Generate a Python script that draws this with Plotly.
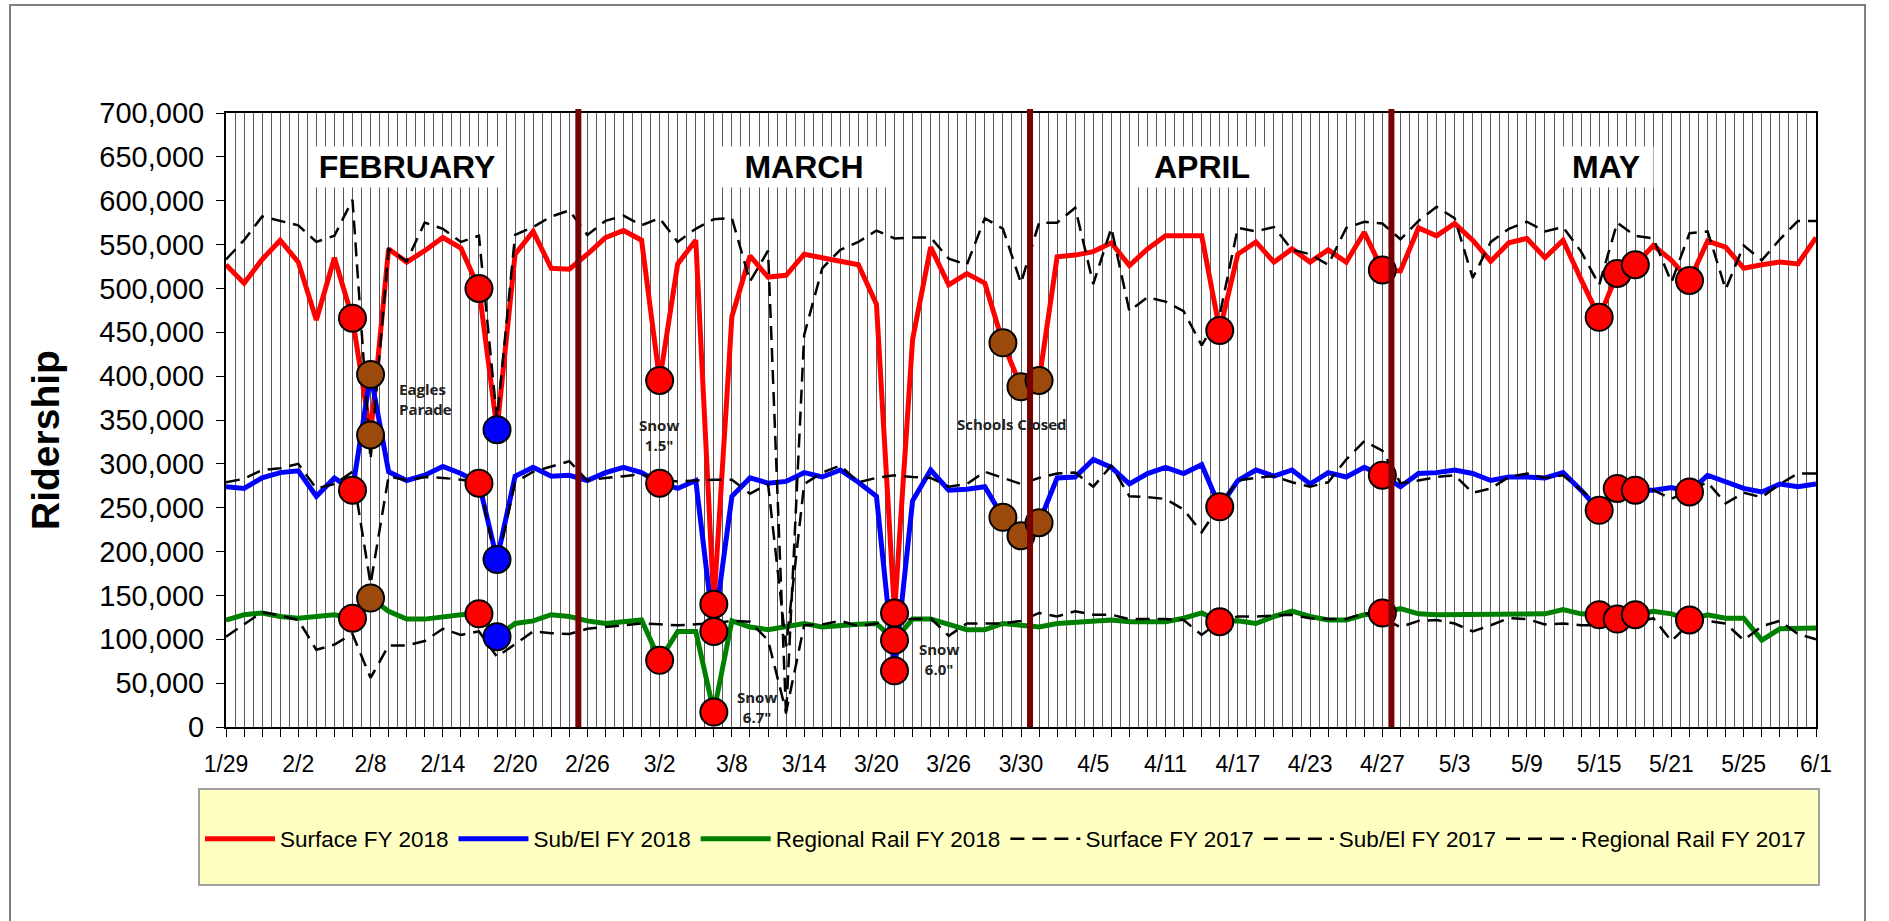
import plotly.graph_objects as go

# Weekday service days (Memorial Day excluded)
days = [
    "1/29", "1/30", "1/31", "2/1", "2/2",
    "2/5", "2/6", "2/7", "2/8", "2/9",
    "2/12", "2/13", "2/14", "2/15", "2/16",
    "2/19", "2/20", "2/21", "2/22", "2/23",
    "2/26", "2/27", "2/28", "3/1", "3/2",
    "3/5", "3/6", "3/7", "3/8", "3/9",
    "3/12", "3/13", "3/14", "3/15", "3/16",
    "3/19", "3/20", "3/21", "3/22", "3/23",
    "3/26", "3/27", "3/28", "3/29", "3/30",
    "4/2", "4/3", "4/4", "4/5", "4/6",
    "4/9", "4/10", "4/11", "4/12", "4/13",
    "4/16", "4/17", "4/18", "4/19", "4/20",
    "4/23", "4/24", "4/25", "4/26", "4/27",
    "4/30", "5/1", "5/2", "5/3", "5/4",
    "5/7", "5/8", "5/9", "5/10", "5/11",
    "5/14", "5/15", "5/16", "5/17", "5/18",
    "5/21", "5/22", "5/23", "5/24", "5/25",
    "5/29", "5/30", "5/31", "6/1",
]
tick_days = ["1/29", "2/2", "2/8", "2/14", "2/20", "2/26", "3/2", "3/8", "3/14",
             "3/20", "3/26", "3/30", "4/5", "4/11", "4/17", "4/23", "4/27", "5/3",
             "5/9", "5/15", "5/21", "5/25", "6/1"]

# Daily ridership, thousands
surface_fy2018 = [527, 506, 533, 555, 530, 464, 535, 466, 333, 545,
                  530, 543, 558, 546, 500, 339, 539, 565, 523, 522,
                  539, 558, 566, 555, 395, 528, 555, 140, 468, 537,
                  513, 515, 539, 535, 532, 527, 482, 130, 442, 547,
                  504, 517, 506, 438, 388, 395, 536, 538, 542, 552,
                  526, 545, 560, 560, 560, 452, 539, 553, 530, 545,
                  530, 544, 530, 564, 521, 520, 569, 560, 574, 555,
                  531, 552, 557, 535, 555, 510, 467, 517, 527, 549,
                  532, 509, 554, 547, 523, 527, 530, 528, 558]
subel_fy2018 = [274, 272, 284, 290, 292, 263, 284, 270, 402, 291,
                281, 287, 297, 289, 278, 191, 286, 296, 286, 287,
                281, 290, 296, 290, 278, 272, 281, 109, 263, 284,
                278, 280, 290, 285, 293, 279, 263, 64, 258, 293,
                270, 271, 274, 239, 218, 233, 284, 285, 305, 296,
                277, 289, 296, 289, 299, 251, 281, 293, 286, 293,
                277, 290, 285, 296, 287, 274, 289, 290, 293, 289,
                281, 285, 285, 284, 290, 270, 247, 272, 270, 270,
                273, 268, 287, 279, 272, 268, 277, 274, 277]
rail_fy2018 = [122, 128, 130, 126, 124, 126, 128, 124, 147, 132,
               123, 123, 126, 128, 129, 103, 118, 121, 128, 126,
               121, 118, 120, 122, 76, 109, 109, 17, 121, 114,
               111, 114, 118, 114, 116, 117, 118, 99, 123, 123,
               117, 111, 111, 118, 116, 114, 118, 119, 121, 122,
               120, 120, 120, 124, 130, 120, 121, 118, 126, 132,
               126, 122, 122, 128, 130, 135, 129, 128, 128, 128,
               129, 129, 128, 129, 134, 129, 128, 123, 128, 132,
               129, 122, 128, 124, 124, 99, 112, 112, 113]
surface_fy2017 = [533, 555, 582, 577, 572, 553, 560, 601, 305, 545,
                  531, 575, 568, 553, 560, 350, 561, 570, 582, 589,
                  561, 577, 583, 572, 580, 553, 568, 579, 580, 508,
                  543, 12, 447, 523, 544, 553, 566, 557, 558, 558,
                  534, 527, 580, 568, 506, 575, 575, 592, 505, 569,
                  474, 490, 485, 474, 435, 470, 569, 565, 570, 544,
                  539, 527, 569, 576, 574, 556, 577, 593, 580, 512,
                  553, 568, 576, 565, 570, 542, 504, 575, 560, 557,
                  507, 563, 565, 499, 549, 532, 556, 577, 577]
subel_fy2017 = [279, 283, 293, 295, 300, 272, 277, 291, 163, 286,
                281, 285, 284, 282, 279, 185, 279, 291, 297, 303,
                281, 284, 286, 288, 282, 280, 281, 282, 282, 266,
                277, 92, 277, 290, 298, 279, 284, 287, 285, 284,
                274, 277, 291, 284, 277, 284, 289, 290, 274, 298,
                263, 262, 260, 248, 222, 253, 281, 284, 286, 279,
                274, 279, 305, 326, 315, 278, 281, 285, 287, 267,
                272, 285, 289, 284, 287, 270, 253, 270, 272, 270,
                260, 270, 279, 255, 267, 262, 277, 289, 289]
rail_fy2017 = [103, 117, 131, 127, 122, 88, 94, 106, 56, 93,
               93, 98, 112, 105, 109, 80, 95, 109, 107, 106,
               112, 114, 116, 118, 117, 116, 117, 118, 121, 120,
               99, 17, 116, 117, 121, 115, 118, 122, 123, 124,
               104, 118, 118, 118, 121, 130, 126, 132, 128, 128,
               123, 123, 123, 122, 105, 121, 126, 126, 127, 128,
               124, 123, 123, 130, 124, 114, 121, 122, 118, 109,
               116, 124, 123, 117, 118, 116, 116, 118, 119, 124,
               98, 118, 121, 118, 99, 115, 121, 106, 100]

# Reporting periods: first day of each new period, and period names
period_starts = ["2/26", "4/2", "4/30"]
period_names = ["FEBRUARY", "MARCH", "APRIL", "MAY"]

# Days flagged on the chart
red_days = ["2/7", "2/16", "3/2", "3/7", "3/21", "4/16", "4/27",
            "5/15", "5/16", "5/17", "5/22"]
brown_days = ["2/8", "3/29", "3/30", "4/2"]
blue_days = ["2/19"]
brown_no_rail = ["3/29", "3/30", "4/2"]

# ---- geometry helpers (pixel -> paper) ----
W, H = 1889, 921
L, R, T, B = 226, 1816, 113, 727


def px(xp):
    return (xp - L) / (R - L)


def py(yp):
    return (B - yp) / (B - T)


FONT = "Liberation Sans, Arial, sans-serif"
x = list(range(len(days)))


def k(vals):
    return [v * 1000 for v in vals]


fig = go.Figure()

line_specs = [
    ("Surface FY 2018", surface_fy2018, dict(color="#FF0000", width=5)),
    ("Sub/El FY 2018", subel_fy2018, dict(color="#0000FF", width=5)),
    ("Regional Rail FY 2018", rail_fy2018, dict(color="#008000", width=5)),
    ("Surface FY 2017", surface_fy2017, dict(color="black", width=2.5, dash="14px,8px")),
    ("Sub/El FY 2017", subel_fy2017, dict(color="black", width=2.5, dash="14px,8px")),
    ("Regional Rail FY 2017", rail_fy2017, dict(color="black", width=2.5, dash="14px,8px")),
]
for name, vals, style in line_specs:
    fig.add_trace(go.Scatter(x=x, y=k(vals), mode="lines", name=name,
                             line=style, hoverinfo="skip"))

# Event markers sit on the FY 2018 lines
fy2018 = [("surface", surface_fy2018), ("subel", subel_fy2018), ("rail", rail_fy2018)]
for color, flagged in [("#FF0000", red_days), ("#9C4A0C", brown_days), ("#0000FF", blue_days)]:
    for key, vals in fy2018:
        idx = [days.index(d) for d in flagged
               if not (key == "rail" and d in brown_no_rail and flagged is brown_days)]
        fig.add_trace(go.Scatter(
            x=idx, y=[vals[i] * 1000 for i in idx], mode="markers",
            marker=dict(size=27, color=color, line=dict(color="black", width=2)),
            showlegend=False, cliponaxis=False, hoverinfo="skip"))

shapes = []
# outer frame
shapes.append(dict(type="rect", xref="paper", yref="paper",
                   x0=px(10), x1=px(1865), y0=py(930), y1=py(5),
                   line=dict(color="#7F7F7F", width=2), fillcolor="rgba(0,0,0,0)",
                   layer="below"))
# legend panel
shapes.append(dict(type="rect", xref="paper", yref="paper",
                   x0=px(199), x1=px(1819), y0=py(885), y1=py(789),
                   line=dict(color="#A0A0A0", width=2), fillcolor="#FFFFC2",
                   layer="below"))
# period dividers
for s in period_starts:
    xv = days.index(s) - 0.5
    shapes.append(dict(type="line", xref="x", yref="paper", x0=xv, x1=xv,
                       y0=0, y1=py(109), line=dict(color="#780000", width=6),
                       layer="above"))

annotations = []
label_x = [10.0, 32.0, 54.0, 76.4]
label_w = [192, 162, 128, 92]
for name, xv, w in zip(period_names, label_x, label_w):
    annotations.append(dict(x=xv, y=638000, xref="x", yref="y", text="<b>%s</b>" % name,
                            showarrow=False, bgcolor="white", width=w, height=38,
                            font=dict(family=FONT, size=32, color="black")))

note_font = dict(family="Open Sans, DejaVu Sans, sans-serif", size=15, color="#222222")
notes = [
    ("<b>Eagles<br>Parade</b>", 9.46, 374000, "left"),
    ("<b>Snow<br>1.5\"</b>", 23.96, 333000, "center"),
    ("<b>Snow<br>6.7\"</b>", 29.4, 23000, "center"),
    ("<b>Snow<br>6.0\"</b>", 39.46, 77500, "center"),
    ("<b>Schools Closed</b>", 43.5, 345000, "center"),
]
for text, xv, yv, anchor in notes:
    annotations.append(dict(x=xv, y=yv, xref="x", yref="y", text=text, showarrow=False,
                            xanchor=anchor, align=anchor, yanchor="middle", font=note_font))

annotations.append(dict(x=px(45), y=py(440), xref="paper", yref="paper",
                        xanchor="center", yanchor="middle",
                        text="<b>Ridership</b>", textangle=-90, showarrow=False,
                        font=dict(family=FONT, size=39, color="black")))

fig.update_layout(
    width=W, height=H,
    margin=dict(l=L, r=W - R, t=T, b=H - B, pad=0),
    paper_bgcolor="white", plot_bgcolor="white",
    font=dict(family=FONT, color="black"),
    showlegend=True,
    legend=dict(orientation="h", x=px(200), xanchor="left", y=py(839),
                yanchor="middle", bgcolor="rgba(0,0,0,0)", font=dict(size=22.5),
                itemwidth=70, traceorder="normal"),
    shapes=shapes, annotations=annotations,
    xaxis=dict(
        range=[0, len(days) - 1], tickmode="array", tickvals=x,
        ticktext=[d if d in tick_days else "" for d in days],
        ticks="outside", ticklen=8, tickcolor="black", tickwidth=1,
        showline=True, linecolor="black", linewidth=2, mirror=True,
        showgrid=True, gridcolor="#5A5A5A", gridwidth=1, zeroline=False,
        minor=dict(tickmode="linear", tick0=0.5, dtick=1, showgrid=True,
                   gridcolor="#5A5A5A", gridwidth=1, ticks=""),
        tickfont=dict(size=23), tickangle=0, ticklabelstandoff=7,
    ),
    yaxis=dict(
        range=[0, 700000], tickmode="linear", tick0=0, dtick=50000, tickformat=",",
        ticks="outside", ticklen=8, tickcolor="black", tickwidth=1,
        showline=True, linecolor="black", linewidth=2, mirror=True,
        showgrid=False, zeroline=False, tickfont=dict(size=29),
        ticklabelstandoff=6,
    ),
)

fig.write_html("out.html")
